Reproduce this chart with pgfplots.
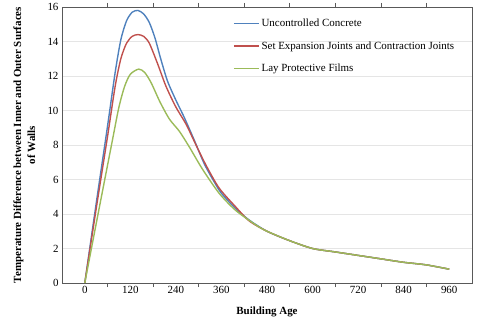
\documentclass[border=0pt]{standalone}
\usepackage{fontspec}
\setmainfont{Liberation Serif}
\usepackage{pgfplots}
\pgfplotsset{compat=1.18}
\usepackage{pgfplotstable}

\definecolor{xlblue}{HTML}{4F81BD}
\definecolor{xlred}{HTML}{C0504D}
\definecolor{xlgreen}{HTML}{9BBB59}

% uncontrolled concrete
\pgfplotstableread{
x y
0 0
30 4.6
60 9.1
80 12.2
95 14.1
110 15.2
125 15.7
140 15.8
155 15.6
170 15.1
185 14.2
200 13.0
218 11.7
240 10.6
262 9.6
288 8.3
315 6.9
340 5.9
360 5.2
398 4.3
433 3.65
480 3.0
540 2.45
600 2.0
660 1.8
720 1.6
780 1.4
840 1.2
900 1.05
960 0.8
}\blueT

% expansion / contraction joints
\pgfplotstableread{
x y
0 0
30 4.3
60 8.5
80 11.4
95 13.0
110 13.9
125 14.3
140 14.4
155 14.3
170 13.9
192 12.7
214 11.4
240 10.2
267 9.2
293 8.0
320 6.8
354 5.5
398 4.4
433 3.6
480 3.0
540 2.45
600 2.0
660 1.8
720 1.6
780 1.4
840 1.2
900 1.05
960 0.8
}\redT

% protective films
\pgfplotstableread{
x y
0 0
35 4.0
73 8.3
90 10.2
105 11.4
120 12.1
142 12.4
158 12.2
175 11.6
198 10.5
223 9.5
249 8.8
275 7.9
310 6.6
354 5.2
398 4.2
451 3.36
480 3.0
540 2.45
600 2.0
660 1.8
720 1.6
780 1.4
840 1.2
900 1.05
960 0.8
}\greenT

\begin{document}
\begin{tikzpicture}
\begin{axis}[
	scale only axis,
	width=410bp,
	height=276bp,
	xmin=-60, xmax=1020,
	ymin=0, ymax=16,
	xtick={0,120,...,960},
	minor xtick={60,180,...,900},
	ytick={0,2,...,16},
	major tick length=0pt,
	minor tick length=4bp,
	tick align=outside,
	minor tick style={gray!70!black, line width=0.6pt},
	ymajorgrids=true,
	grid style={gray!20, line width=0.8pt},
	axis line style={gray!70!black, line width=0.7pt},
	tick label style={font=\fontsize{11}{13}\selectfont},
	/pgf/number format/assume math mode=true,
	xlabel={Building Age},
	ylabel={Temperature Difference between Inner and Outer Surfaces\\of Walls},
	label style={font=\fontsize{11}{14}\selectfont\bfseries},
	ylabel style={align=center, at={(axis description cs:-0.092,0.5)}, anchor=center},
	xlabel style={at={(axis description cs:0.5,-0.105)}, anchor=center},
	legend cell align=left,
	legend style={at={(rel axis cs:0.417,0.965)}, anchor=north west, draw=none, fill=none,
		font=\fontsize{11}{13}\selectfont, row sep=9.5bp, inner sep=0pt},
	legend image code/.code={\draw[#1, line width=1.4pt] (0bp,0bp) -- (25bp,0bp);},
	every axis plot/.append style={line width=1.4pt, smooth, tension=0.45},
]
	\addplot[xlblue] table {\blueT};
	\addlegendentry{Uncontrolled Concrete}
	\addplot[xlred] table {\redT};
	\addlegendentry{Set Expansion Joints and Contraction Joints}
	\addplot[xlgreen] table {\greenT};
	\addlegendentry{Lay Protective Films}
\end{axis}
\pgfresetboundingbox
\path (-62bp,-42bp) rectangle (418bp,283bp);
\end{tikzpicture}
\end{document}
